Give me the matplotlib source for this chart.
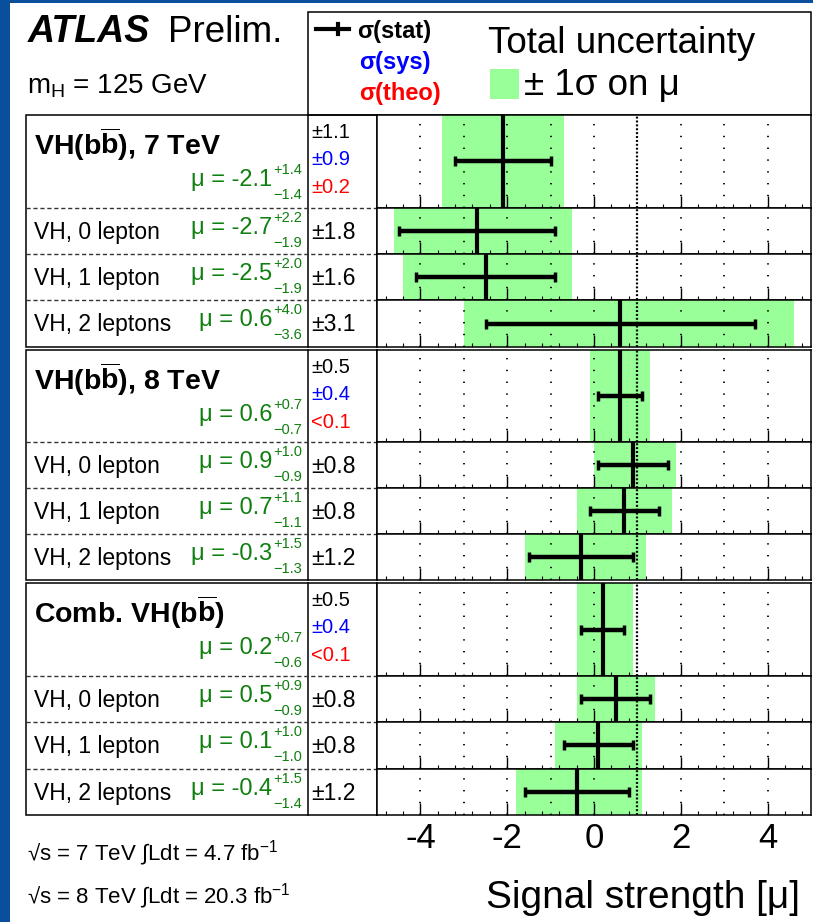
import numpy as np
import matplotlib
matplotlib.use("Agg")
import matplotlib.pyplot as plt
from matplotlib.patches import Rectangle
from matplotlib.ticker import FixedLocator, MultipleLocator

plt.rcParams['font.family'] = ['Liberation Sans', 'DejaVu Sans']
plt.rcParams['mathtext.fontset'] = 'custom'
plt.rcParams['mathtext.rm'] = 'Liberation Sans'
plt.rcParams['mathtext.it'] = 'Liberation Sans:italic'
plt.rcParams['mathtext.bf'] = 'Liberation Sans:bold'
plt.rcParams['lines.scale_dashes'] = False
plt.rcParams['axes.unicode_minus'] = False

# rows, top to bottom (first row of each group is the combination)
labels = [r"VH(b$\overline{\mathbf{b}}$), 7 TeV", "VH, 0 lepton", "VH, 1 lepton", "VH, 2 leptons",
          r"VH(b$\overline{\mathbf{b}}$), 8 TeV", "VH, 0 lepton", "VH, 1 lepton", "VH, 2 leptons",
          r"Comb. VH(b$\overline{\mathbf{b}}$)", "VH, 0 lepton", "VH, 1 lepton", "VH, 2 leptons"]
is_group = [True, False, False, False] * 3
mu = [-2.1, -2.7, -2.5, 0.6, 0.6, 0.9, 0.7, -0.3, 0.2, 0.5, 0.1, -0.4]
err_up = [1.4, 2.2, 2.0, 4.0, 0.7, 1.0, 1.1, 1.5, 0.7, 0.9, 1.0, 1.5]
err_dn = [1.4, 1.9, 1.9, 3.6, 0.7, 0.9, 1.1, 1.3, 0.6, 0.9, 1.0, 1.4]
stat = [1.1, 1.8, 1.6, 3.1, 0.5, 0.8, 0.8, 1.2, 0.5, 0.8, 0.8, 1.2]
group_sys = [0.9, 0.4, 0.4]
group_theo = ["\u00b10.2", "<0.1", "<0.1"]
xticks = [-4, -2, 0, 2, 4]
grid_x = [-4, -3, -2, -1, 0, 2, 3, 4]
sm_mu = 1

lumi_lines = ["\u221as = 7 TeV \u222bLdt = 4.7 fb$^{-1}$",
              "\u221as = 8 TeV \u222bLdt = 20.3 fb$^{-1}$"]

GREEN = '#99ff99'
GREEN_TXT = '#0f7f0f'
BLUE_BG = '#0a4f9c'

W, H = 813, 922
fig = plt.figure(figsize=(W / 100, H / 100), dpi=100)
fig.patch.set_facecolor('white')

# layout axes in pixel units
lay = fig.add_axes([0, 0, 1, 1])
lay.set_xlim(0, W)
lay.set_ylim(H, 0)
lay.axis('off')

lay.add_patch(Rectangle((0, 0), 10, H, color=BLUE_BG, lw=0))
lay.add_patch(Rectangle((0, 0), W, 3, color=BLUE_BG, lw=0))

X_TAB, X_NUM, X_PLOT, X_END = 26, 308, 377, 811
TOP, GROUP_H, GAP = 115, 700 / 3, 1.5

# row geometry
rows = []
for g in range(3):
    gtop = TOP + g * GROUP_H + (GAP if g > 0 else 0)
    gbot = TOP + (g + 1) * GROUP_H - (GAP if g < 2 else 0)
    u = (gbot - gtop) / 5
    rows.append((gtop, 2 * u))
    for k in range(3):
        rows.append((gtop + (2 + k) * u, u))
    lay.add_patch(Rectangle((X_TAB, gtop), X_PLOT - X_TAB, gbot - gtop, fill=False, lw=1.1, ec='black'))
    lay.plot([X_NUM, X_NUM], [gtop, gbot], color='black', lw=1.1)
    for k in range(3):
        yy = gtop + (2 + k) * u
        lay.plot([X_TAB, X_PLOT], [yy, yy], color='#333333', lw=1, ls=(0, (3, 2)))

# header / legend box
lay.add_patch(Rectangle((X_NUM, 12), X_END - X_NUM, TOP - 12, fill=False, lw=1.1, ec='black'))
lay.plot([316, 349], [29, 29], color='black', lw=3)
lay.plot([338, 338], [24, 34], color='black', lw=3)
lay.text(357, 38, "\u03c3(stat)", fontsize=17, fontweight='bold', va='baseline')
lay.text(359, 69, "\u03c3(sys)", fontsize=17, fontweight='bold', color='#0000ff', va='baseline')
lay.text(359, 100, "\u03c3(theo)", fontsize=17, fontweight='bold', color='#ff0000', va='baseline')
lay.text(488, 53, "Total uncertainty", fontsize=26.5, va='baseline')
lay.add_patch(Rectangle((490, 69), 29, 30, color=GREEN, lw=0))
lay.text(524, 95, "\u00b1 1\u03c3 on \u03bc", fontsize=26.5, va='baseline')

lay.text(28, 42, "ATLAS", fontsize=27, fontweight='bold', fontstyle='italic', va='baseline')
lay.text(168, 42, "Prelim.", fontsize=26.5, va='baseline')
lay.text(27, 93, r"m$_{\mathregular{H}}$ = 125 GeV", fontsize=20, va='baseline')

for i, (top, h) in enumerate(rows):
    g = i // 4
    if is_group[i]:
        lay.text(34, top + 40, labels[i], fontsize=20.5, fontweight='bold', va='baseline')
        lay.text(272, top + 71, "\u03bc = %.1f" % mu[i], fontsize=17, color=GREEN_TXT,
                 ha='right', va='baseline')
        lay.text(273, top + 59, "+%.1f" % err_up[i], fontsize=10.5, color=GREEN_TXT, va='baseline')
        lay.text(273, top + 84, "\u2212%.1f" % err_dn[i], fontsize=10.5, color=GREEN_TXT, va='baseline')
        lay.text(311, top + 23, "\u00b1%.1f" % stat[i], fontsize=14.5, va='baseline')
        lay.text(311, top + 50, "\u00b1%.1f" % group_sys[g], fontsize=14.5, color='#0000ff', va='baseline')
        lay.text(311, top + 78, group_theo[g], fontsize=14.5, color='#ff0000', va='baseline')
    else:
        lay.text(34, top + 31, labels[i], fontsize=16.5, va='baseline')
        lay.text(272, top + 26, "\u03bc = %.1f" % mu[i], fontsize=17, color=GREEN_TXT,
                 ha='right', va='baseline')
        lay.text(273, top + 14, "+%.1f" % err_up[i], fontsize=10.5, color=GREEN_TXT, va='baseline')
        lay.text(273, top + 39, "\u2212%.1f" % err_dn[i], fontsize=10.5, color=GREEN_TXT, va='baseline')
        lay.text(311, top + 31, "\u00b1%.1f" % stat[i], fontsize=16.5, va='baseline')

    ax = fig.add_axes([X_PLOT / W, 1 - (top + h) / H, (X_END - X_PLOT) / W, h / H])
    ax.set_facecolor('white')
    ax.set_xlim(-5, 5)
    ax.set_ylim(0, 1)
    ax.barh(0.5, err_up[i] + err_dn[i], left=mu[i] - err_dn[i], height=1.0,
            color=GREEN, lw=0, zorder=1)
    ax.vlines(grid_x, 0, 1, colors='black', linestyles=[(0, (1, 7.5))], lw=1.3, zorder=2)
    ax.axvline(sm_mu, color='black', ls=(0, (1.4, 1.4)), lw=1.6, zorder=2)
    ax.axvline(mu[i], color='black', lw=3, zorder=3)
    ax.errorbar(mu[i], 0.5, xerr=stat[i], fmt='none', ecolor='black', elinewidth=3.2,
                capsize=3.5, capthick=2.5, zorder=4)
    ax.xaxis.set_major_locator(FixedLocator(xticks))
    ax.xaxis.set_minor_locator(MultipleLocator(0.4))
    ax.tick_params(axis='x', which='major', direction='in', length=9, width=1, top=False)
    ax.tick_params(axis='x', which='minor', direction='in', length=2.6, width=0.8, top=False)
    ax.set_yticks([])
    for s in ax.spines.values():
        s.set_linewidth(1.1)
    if i == len(rows) - 1:
        ax.tick_params(axis='x', labelsize=25, pad=5)
    else:
        ax.tick_params(axis='x', labelbottom=False)

lay.text(800, 908, "Signal strength [\u03bc]", fontsize=28, ha='right', va='baseline')
lay.text(27, 860, lumi_lines[0], fontsize=16, va='baseline')
lay.text(27, 903, lumi_lines[1], fontsize=16, va='baseline')

fig.savefig("out.png", dpi=100)
